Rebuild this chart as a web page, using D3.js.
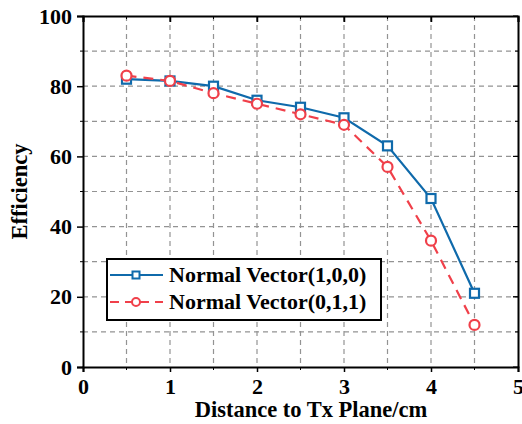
<!DOCTYPE html>
<html>
<head>
<meta charset="utf-8">
<script src="https://cdn.jsdelivr.net/npm/d3@7"></script>
<style>
  body { margin: 0; background: #fff; }
  svg { font-family: "Liberation Serif", "Times New Roman", serif; font-weight: bold; }
</style>
</head>
<body>
<div class="chart"></div>
<script>
// data
const distance = [0.5, 1, 1.5, 2, 2.5, 3, 3.5, 4, 4.5];
const vec100 = [82, 81.5, 80, 76, 74, 71, 63, 48, 21];
const vec011 = [83, 81.5, 78, 75, 72, 69, 57, 36, 12];
const x_ticks = [0, 1, 2, 3, 4, 5];
const y_ticks = [0, 20, 40, 60, 80, 100];
const series_names = ['Normal Vector(1,0,0)', 'Normal Vector(0,1,1)'];

const svg_width = 522, svg_height = 424;
const margin = {top: 16, right: 4, bottom: 57, left: 83};
const chart_width = svg_width - margin.left - margin.right;
const chart_height = svg_height - margin.top - margin.bottom;
const blue = '#0f6aab', red = '#f0404a';

const svg = d3.select('.chart').append('svg')
    .attr('width', svg_width).attr('height', svg_height);
const g = svg.append('g').attr('transform', `translate(${margin.left},${margin.top})`);

const x = d3.scaleLinear().domain([0, 5]).range([0, chart_width]);
const y = d3.scaleLinear().domain([0, 100]).range([chart_height, 0]);

// grid (every 0.5 on x, every 10 on y)
const x_grid = d3.range(0.5, 5, 0.5);
const y_grid = d3.range(10, 100, 10);
g.append('g').selectAll('line').data(x_grid).join('line')
    .attr('x1', d => x(d)).attr('x2', d => x(d))
    .attr('y1', 0).attr('y2', chart_height)
    .attr('stroke', '#939393').attr('stroke-width', 1.2).attr('stroke-dasharray', '5,4');
g.append('g').selectAll('line').data(y_grid).join('line')
    .attr('y1', d => y(d)).attr('y2', d => y(d))
    .attr('x1', 0).attr('x2', chart_width)
    .attr('stroke', '#939393').attr('stroke-width', 1.2).attr('stroke-dasharray', '5,4');

// axes
const ax_bottom = g.append('g').attr('transform', `translate(0,${chart_height})`)
    .call(d3.axisBottom(x).tickValues(x_ticks).tickFormat(d3.format('d')).tickSize(5).tickPadding(6));
const ax_left = g.append('g')
    .call(d3.axisLeft(y).tickValues(y_ticks).tickSize(6).tickPadding(5));
const ax_top = g.append('g')
    .call(d3.axisBottom(x).tickValues(x_ticks).tickSize(6).tickFormat(''));
const ax_right = g.append('g').attr('transform', `translate(${chart_width},0)`)
    .call(d3.axisLeft(y).tickValues(y_ticks).tickSize(-0).tickFormat(''));
// minor ticks
ax_bottom.append('g').selectAll('line').data(x_grid.filter(d => d % 1)).join('line')
    .attr('x1', d => x(d)).attr('x2', d => x(d)).attr('y1', 0).attr('y2', 3).attr('stroke', '#000');
ax_left.append('g').selectAll('line').data(y_grid.filter(d => d % 20)).join('line')
    .attr('y1', d => y(d)).attr('y2', d => y(d)).attr('x1', 0).attr('x2', -3).attr('stroke', '#000');
ax_top.append('g').selectAll('line').data(x_grid).join('line')
    .attr('x1', d => x(d)).attr('x2', d => x(d)).attr('y1', 0).attr('y2', d => d % 1 ? 3 : 6).attr('stroke', '#000');
ax_right.append('g').selectAll('line').data(y_grid.concat(y_ticks)).join('line')
    .attr('y1', d => y(d)).attr('y2', d => y(d)).attr('x1', 0).attr('x2', d => d % 20 ? -3 : -5).attr('stroke', '#000');

[ax_bottom, ax_left, ax_top, ax_right].forEach(a => {
    a.select('.domain').attr('stroke-width', 2).attr('stroke', '#000');
    a.selectAll('.tick line').attr('stroke-width', 1.5);
    a.selectAll('text').attr('font-family', '"Liberation Serif", serif')
        .attr('font-weight', 'bold').attr('font-size', 22).attr('fill', '#000');
});
ax_right.selectAll('.tick line').remove();

// lines
const line = d3.line().x((d, i) => x(distance[i])).y(d => y(d));
g.append('path').datum(vec100).attr('d', line)
    .attr('fill', 'none').attr('stroke', blue).attr('stroke-width', 2.2);
g.append('path').datum(vec011).attr('d', line)
    .attr('fill', 'none').attr('stroke', red).attr('stroke-width', 2.2).attr('stroke-dasharray', '10,7');

g.selectAll('.sq').data(vec100).join('rect').attr('class', 'sq')
    .attr('x', (d, i) => x(distance[i]) - 4.5).attr('y', d => y(d) - 4.5)
    .attr('width', 9).attr('height', 9)
    .attr('fill', '#fff').attr('stroke', blue).attr('stroke-width', 2.2);
g.selectAll('.ci').data(vec011).join('circle').attr('class', 'ci')
    .attr('cx', (d, i) => x(distance[i])).attr('cy', d => y(d)).attr('r', 5)
    .attr('fill', '#fff').attr('stroke', red).attr('stroke-width', 2.2);

// legend
const legend = svg.append('g');
legend.append('rect').attr('x', 107).attr('y', 259).attr('width', 274).attr('height', 61)
    .attr('fill', '#fff').attr('stroke', '#000').attr('stroke-width', 2);
const rows = [
    {name: series_names[0], color: blue, dash: null, mark: 'sq', ty: 275},
    {name: series_names[1], color: red, dash: '9,6', mark: 'ci', ty: 302}
];
rows.forEach(r => {
    legend.append('line').attr('x1', 110).attr('x2', 163).attr('y1', r.ty).attr('y2', r.ty)
        .attr('stroke', r.color).attr('stroke-width', 2.2).attr('stroke-dasharray', r.dash);
    if (r.mark === 'sq') {
        legend.append('rect').attr('x', 132.5).attr('y', r.ty - 3.5).attr('width', 7).attr('height', 7)
            .attr('fill', '#fff').attr('stroke', r.color).attr('stroke-width', 2);
    } else {
        legend.append('circle').attr('cx', 136).attr('cy', r.ty).attr('r', 4)
            .attr('fill', '#fff').attr('stroke', r.color).attr('stroke-width', 2);
    }
    legend.append('text').attr('x', 169).attr('y', r.ty + 7).attr('font-size', 22).text(r.name);
});

// axis titles
svg.append('text').attr('x', 311).attr('y', 417).attr('text-anchor', 'middle')
    .attr('font-size', 22.5).text('Distance to Tx Plane/cm');
svg.append('text').attr('transform', `translate(27,${margin.top + chart_height / 2}) rotate(-90)`)
    .attr('text-anchor', 'middle').attr('font-size', 22.5).text('Efficiency');
</script>
</body>
</html>
